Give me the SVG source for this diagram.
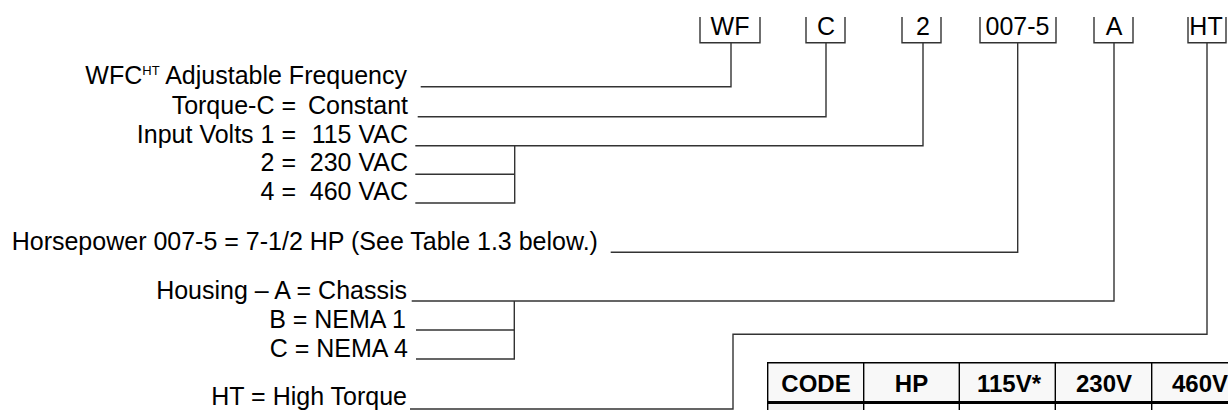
<svg xmlns="http://www.w3.org/2000/svg" width="1228" height="410" viewBox="0 0 1228 410">
<style>
  text { font-family: "Liberation Sans", Arial, Helvetica, sans-serif; font-size: 25px; fill: #000; }
  .r { text-anchor: end; }
  .c { text-anchor: middle; }
  .ln { stroke: #333; stroke-width: 1.4; fill: none; }
  .th { font-weight: bold; font-size: 24px; text-anchor: middle; }
  .tb { stroke: #000; stroke-width: 1.4; fill: none; }
  .sup { font-size: 13px; }
</style>
<rect width="1228" height="410" fill="#fff"/>

<g id="code-WF"><path class="ln" d="M700 17V42.7H760V17"/><text class="c" x="730" y="35">WF</text></g>
<g id="code-C"><path class="ln" d="M806 17V42.7H845V17"/><text class="c" x="826" y="35">C</text></g>
<g id="code-2"><path class="ln" d="M902 17V42.7H941V17"/><text class="c" x="923" y="35">2</text></g>
<g id="code-007-5"><path class="ln" d="M980 17V42.7H1056V17"/><text class="c" x="1017.5" y="35">007-5</text></g>
<g id="code-A"><path class="ln" d="M1094 17V42.7H1133V17"/><text class="c" x="1114" y="35">A</text></g>
<g id="code-HT"><path class="ln" d="M1188 17V42.7H1226V17"/><text class="c" x="1206" y="35">HT</text></g>

<g id="label-wfc"><text class="r" x="407" y="84">WFC<tspan class="sup" dy="-9">HT</tspan><tspan dy="9"> Adjustable Frequency</tspan></text></g>
<g id="label-torque"><text class="r" x="296" y="113.5">Torque-C =</text><text class="r" x="408" y="113.5">Constant</text></g>
<g id="label-volts1"><text class="r" x="296" y="142.5">Input Volts 1 =</text><text class="r" x="408" y="142.5">115 VAC</text></g>
<g id="label-volts2"><text class="r" x="296" y="171">2 =</text><text class="r" x="408" y="171">230 VAC</text></g>
<g id="label-volts4"><text class="r" x="296" y="200">4 =</text><text class="r" x="408" y="200">460 VAC</text></g>
<g id="label-hp"><text x="11.7" y="250">Horsepower 007-5 = 7-1/2 HP (See Table 1.3 below.)</text></g>
<g id="label-housingA"><text class="r" x="407" y="299">Housing – A = Chassis</text></g>
<g id="label-housingB"><text class="r" x="406" y="328">B = NEMA 1</text></g>
<g id="label-housingC"><text class="r" x="408" y="357">C = NEMA 4</text></g>
<g id="label-ht"><text class="r" x="407" y="405">HT = High Torque</text></g>

<g id="connectors" class="ln">
  <path d="M420.7 86.7H731V42.7"/>
  <path d="M417.7 116.7H826V42.7"/>
  <path d="M415.3 145.7H923V42.7"/>
  <path d="M415.3 174.3H514.7"/>
  <path d="M415.3 203H514.7V145.7"/>
  <path d="M610.7 252.3H1017.7V42.7"/>
  <path d="M411.7 301H1114V42.7"/>
  <path d="M416 330H514.3"/>
  <path d="M416 359H514.3V301"/>
  <path d="M410 409H733V334.3H1207V42.7"/>
</g>

<g id="table">
  <rect x="767.7" y="362.7" width="470" height="39.6" fill="#f8f8f8"/>
  <rect x="767.7" y="403.5" width="96" height="7" fill="#f1f1f1"/>
  <path class="tb" d="M767.7 410V362.7H1240"/>
  <path class="tb" d="M863.7 362.7V410M959.3 362.7V410M1055.3 362.7V410M1151.7 362.7V410"/>
  <path d="M767.7 402.5H1240" stroke="#000" stroke-width="3" fill="none"/>
  <text class="th" x="816" y="392">CODE</text>
  <text class="th" x="911.5" y="392">HP</text>
  <text class="th" x="1009" y="392">115V*</text>
  <text class="th" x="1104" y="392">230V</text>
  <text class="th" x="1200" y="392">460V</text>
</g>
</svg>
